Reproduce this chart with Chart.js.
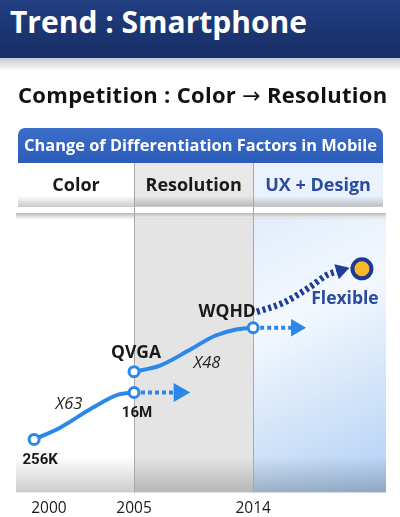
<!DOCTYPE html>
<html>
<head>
<meta charset="utf-8">
<script src="https://cdn.jsdelivr.net/npm/chart.js@4"></script>
<style>
  html, body { margin: 0; padding: 0; width: 400px; height: 517px; overflow: hidden; background: #fff; }
  #wrap { position: relative; width: 400px; height: 517px; }
  #chart { position: absolute; left: 0; top: 0; }
  .band { position: absolute; left: 0; top: 0; width: 400px; height: 58px; background: linear-gradient(#223f80, #172d65); }
  .band-shadow { position: absolute; left: 0; top: 58px; width: 400px; height: 13px; background: linear-gradient(#c4c9d2, #fff); }
  h1 { position: absolute; left: 10px; top: 0; margin: 0; color: #fff; font: 700 30px/44px "Open Sans", sans-serif; white-space: nowrap; }
  h2 { position: absolute; left: 18px; top: 79px; margin: 0; color: #111; font: 700 22px/30px "Open Sans", sans-serif; letter-spacing: 0.3px; white-space: nowrap; }
  h2 .arr { font-family: "DejaVu Sans"; font-weight: 400; font-size: 22px; }
</style>
</head>
<body>
<div id="wrap">
  <canvas id="chart" width="400" height="517"></canvas>
  <div class="band"></div>
  <div class="band-shadow"></div>
  <h1>Trend : Smartphone</h1>
  <h2>Competition : Color <span class="arr">→</span> Resolution</h2>
</div>
<script>
// timeline runs 0..10 left to right, "level" 0..10 bottom to top
const years = ['2000', '2005', '2014'];
const yearTicks = [0.89, 3.19, 6.41];
const phases = ['Color', 'Resolution', 'UX + Design'];
const phaseEdges = [3.19, 6.41];

const colorCurve = [[0.49, 1.93], [1.19, 2.36], [2.08, 3.09], [2.76, 3.56], [3.19, 3.64]];
const resCurve = [[3.19, 4.40], [3.89, 4.62], [4.70, 5.20], [5.38, 5.71], [5.92, 5.93], [6.41, 6.00]];
const colorArrow = [[3.19, 3.64], [4.41, 3.64]];
const resArrow = [[6.41, 6.00], [7.57, 6.00]];
const flexCurve = [[6.51, 6.58], [7.22, 6.91], [7.95, 7.49], [8.41, 7.93], [8.78, 8.09]];

const milestones = [[0.49, 1.93], [3.19, 3.64], [3.19, 4.40], [6.41, 6.00]];
const milestoneNames = ['256K', '16M', 'QVGA', 'WQHD'];
const flexible = [[9.35, 8.15]];
const flexibleName = 'Flexible';
const ratios = ['X63', 'X48'];
const ratioAt = [[1.43, 3.20], [5.16, 4.69]];

const BLUE = '#2b87e8';
const NAVY = '#1f3c98';

function pts(arr) {
  return arr.map(p => ({ x: p[0], y: p[1] }));
}

const backdrop = {
  id: 'backdrop',
  beforeDraw(chart) {
    const { ctx, chartArea: a, scales: { x } } = chart;
    const e1 = x.getPixelForValue(phaseEdges[0]);
    const e2 = x.getPixelForValue(phaseEdges[1]);
    ctx.save();

    // box title
    const bl = 18, br = 383;
    let g = ctx.createLinearGradient(0, 128, 0, 163);
    g.addColorStop(0, '#3b6dc9');
    g.addColorStop(1, '#2c5cb8');
    ctx.fillStyle = g;
    ctx.beginPath();
    ctx.roundRect(bl, 128, br - bl, 35, [7, 7, 0, 0]);
    ctx.fill();
    ctx.fillStyle = '#fff';
    ctx.font = '700 16.5px "Open Sans"';
    ctx.textAlign = 'center';
    ctx.textBaseline = 'middle';
    ctx.fillText('Change of Differentiation Factors in Mobile', (bl + br) / 2, 146, br - bl - 12);

    // phase header row
    const cols = [[bl, e1, '#ffffff', '#1a1a1a'], [e1, e2, '#e8e8e8', '#1a1a1a'], [e2, br, '#eaf2fd', '#2a4aa0']];
    cols.forEach((c, i) => {
      ctx.fillStyle = c[2];
      ctx.fillRect(c[0], 163, c[1] - c[0], 43);
      ctx.fillStyle = c[3];
      ctx.font = '700 18px "Open Sans"';
      ctx.fillText(phases[i], (c[0] + c[1]) / 2, 186, c[1] - c[0] - 8);
    });
    g = ctx.createLinearGradient(0, 196, 0, 207);
    g.addColorStop(0, 'rgba(0,0,0,0)');
    g.addColorStop(1, 'rgba(0,0,0,0.22)');
    ctx.fillStyle = g;
    ctx.fillRect(bl, 196, br - bl, 11);

    // chart bands
    ctx.fillStyle = '#e4e4e4';
    ctx.fillRect(e1, a.top, e2 - e1, a.bottom - a.top);
    g = ctx.createLinearGradient(e2, a.top, a.right, a.bottom);
    g.addColorStop(0, '#e2edfb');
    g.addColorStop(0.35, '#f3f8fe');
    g.addColorStop(1, '#b0cff4');
    ctx.fillStyle = g;
    ctx.fillRect(e2, a.top, a.right - e2, a.bottom - a.top);

    g = ctx.createLinearGradient(0, a.top - 5, 0, a.top + 2);
    g.addColorStop(0, '#b5b5b5');
    g.addColorStop(1, 'rgba(200,200,200,0)');
    ctx.fillStyle = g;
    ctx.fillRect(a.left, a.top - 5, a.right - a.left, 7);

    g = ctx.createLinearGradient(0, a.bottom - 36, 0, a.bottom);
    g.addColorStop(0, 'rgba(0,0,0,0)');
    g.addColorStop(1, 'rgba(0,0,0,0.2)');
    ctx.fillStyle = g;
    ctx.fillRect(a.left, a.bottom - 36, a.right - a.left, 36);

    ctx.strokeStyle = '#a9a9a9';
    ctx.lineWidth = 1;
    [e1, e2].forEach(px => {
      ctx.beginPath();
      ctx.moveTo(Math.round(px) + 0.5, 163);
      ctx.lineTo(Math.round(px) + 0.5, a.bottom);
      ctx.stroke();
    });
    ctx.restore();
  }
};

const notes = {
  id: 'notes',
  afterDatasetsDraw(chart) {
    const { ctx, scales: { x, y } } = chart;
    ctx.save();
    ctx.textAlign = 'center';
    ctx.textBaseline = 'middle';
    const offs = [[6, 21], [3, 21], [2, -19], [-26, -16]];
    const fonts = ['700 15px "Liberation Sans Narrow", "Roboto"', '700 15px "Liberation Sans Narrow", "Roboto"',
      '700 17.5px "Open Sans"', '700 17.5px "Open Sans"'];
    milestones.forEach((p, i) => {
      ctx.font = fonts[i];
      ctx.fillStyle = '#1a1a1a';
      ctx.fillText(milestoneNames[i], x.getPixelForValue(p[0]) + offs[i][0], y.getPixelForValue(p[1]) + offs[i][1]);
    });
    ctx.font = '700 17.5px "Open Sans"';
    ctx.fillStyle = '#2a4aa0';
    ctx.fillText(flexibleName, x.getPixelForValue(flexible[0][0]) - 17, y.getPixelForValue(flexible[0][1]) + 30);
    ctx.font = 'italic 400 16.5px "Open Sans"';
    ctx.fillStyle = '#222';
    ratios.forEach((t, i) => {
      ctx.fillText(t, x.getPixelForValue(ratioAt[i][0]), y.getPixelForValue(ratioAt[i][1]));
    });
    ctx.restore();
  }
};

const lineBase = { showLine: true, pointRadius: 0, borderWidth: 4, borderColor: BLUE, tension: 0.4, cubicInterpolationMode: 'monotone' };

new Chart(document.getElementById('chart'), {
  type: 'scatter',
  data: {
    datasets: [
      {
        data: pts(flexible), pointRadius: 9.5, pointBorderWidth: 4,
        pointBackgroundColor: '#f7b928', pointBorderColor: '#1c3a94'
      },
      {
        data: pts(milestones), pointRadius: 5, pointBorderWidth: 3,
        pointBackgroundColor: '#fff', pointBorderColor: BLUE
      },
      { ...lineBase, data: pts(colorCurve) },
      { ...lineBase, data: pts(resCurve) },
      {
        ...lineBase, data: pts(colorArrow), borderDash: [4, 3], tension: 0,
        pointRadius: [0, 11], pointStyle: 'triangle', rotation: 90, pointBackgroundColor: BLUE, pointBorderWidth: 0
      },
      {
        ...lineBase, data: pts(resArrow), borderDash: [4, 3], tension: 0,
        pointRadius: [0, 10], pointStyle: 'triangle', rotation: 90, pointBackgroundColor: BLUE, pointBorderWidth: 0
      },
      {
        ...lineBase, data: pts(flexCurve), borderColor: NAVY, borderWidth: 6.5, borderDash: [3, 3],
        pointRadius: [0, 0, 0, 0, 9], pointStyle: 'triangle', rotation: 73, pointBackgroundColor: NAVY, pointBorderWidth: 0
      }
    ]
  },
  options: {
    responsive: false,
    animation: false,
    events: [],
    layout: { padding: { left: 16, right: 14, top: 218, bottom: -8 } },
    plugins: { legend: { display: false }, tooltip: { enabled: false } },
    scales: {
      x: {
        type: 'linear', min: 0, max: 10,
        grid: { display: false, drawTicks: false },
        border: { display: false },
        afterBuildTicks: s => { s.ticks = yearTicks.map(v => ({ value: v })); },
        ticks: {
          padding: 7, color: '#1a1a1a', font: { family: 'Open Sans', size: 15.5 },
          callback: v => years[yearTicks.indexOf(v)]
        }
      },
      y: { display: false, min: 0, max: 10 }
    }
  },
  plugins: [backdrop, notes]
});
</script>
</body>
</html>
